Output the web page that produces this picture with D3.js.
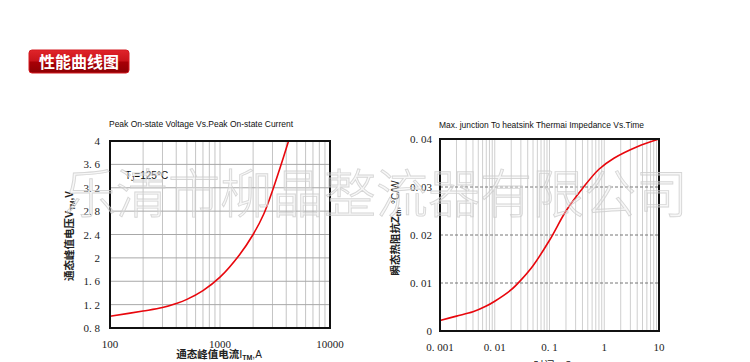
<!DOCTYPE html>
<html>
<head>
<meta charset="utf-8">
<script src="https://cdn.jsdelivr.net/npm/d3@7"></script>
<style>
  body { margin: 0; background: #fff; }
  svg { display: block; }
</style>
</head>
<body>
<svg id="chart" width="750" height="362"></svg>
<script>
// left panel: peak on-state voltage vs current
const currentA = [100, 200, 300, 400, 500, 700, 1000, 1500, 2000, 2500, 3000, 3500, 4200];
const voltageV = [1.0, 1.09, 1.15, 1.22, 1.29, 1.44, 1.67, 2.05, 2.4, 2.75, 3.15, 3.53, 4.0];
const voltTicks = [0.8, 1.2, 1.6, 2, 2.4, 2.8, 3.2, 3.6, 4];
const currentTicks = [100, 1000, 10000];

// right panel: thermal impedance vs time
const timeS = [0.001, 0.002, 0.004, 0.007, 0.01, 0.02, 0.03, 0.05, 0.1, 0.2, 0.4, 0.8, 1.5, 4, 10];
const zth = [0.0022, 0.0031, 0.0040, 0.0052, 0.0062, 0.0086, 0.0106, 0.0136, 0.0189, 0.0250, 0.0297, 0.0337, 0.0360, 0.0384, 0.0400];
const zthTicks = [0, 0.01, 0.02, 0.03, 0.04];
const timeTicks = [0.001, 0.01, 0.1, 1, 10];

const svg = d3.select('#chart');
const serif = '"Liberation Serif", "DejaVu Serif", serif';
const sans = '"Liberation Sans", Arial, sans-serif';
const cjk = '"Noto Sans CJK SC", sans-serif';

// header badge
const defs = svg.append('defs');
const grad = defs.append('linearGradient').attr('id', 'badge').attr('x1', 0).attr('y1', 0).attr('x2', 0).attr('y2', 1);
grad.append('stop').attr('offset', '0%').attr('stop-color', '#e0242a');
grad.append('stop').attr('offset', '48%').attr('stop-color', '#c8141a');
grad.append('stop').attr('offset', '52%').attr('stop-color', '#a80006');
grad.append('stop').attr('offset', '100%').attr('stop-color', '#8c0004');
svg.append('rect').attr('x', 29).attr('y', 50).attr('width', 100).attr('height', 23)
  .attr('rx', 3).attr('fill', 'url(#badge)').attr('stroke', '#d41a20').attr('stroke-width', 1);
svg.append('text').attr('x', 79).attr('y', 67.5).attr('text-anchor', 'middle')
  .attr('font-family', cjk).attr('font-weight', 700).attr('font-size', 16)
  .attr('fill', '#fff').text('性能曲线图');

function fmt(v, digits) {
  // tick labels drawn like "3. 6"
  const s = digits == null ? String(v) : v.toFixed(digits);
  return s.replace('.', '. ');
}

function panel(cfg) {
  const x = d3.scaleLog().domain(cfg.xDomain).range([cfg.left, cfg.right]);
  const y = d3.scaleLinear().domain(cfg.yDomain).range([cfg.bottom, cfg.top]);
  const g = svg.append('g');

  // minor vertical grid
  const minor = [];
  const d0 = Math.log10(cfg.xDomain[0]), d1 = Math.log10(cfg.xDomain[1]);
  for (let d = d0; d < d1; d++) {
    for (let k = 1; k <= 9; k++) minor.push(Math.pow(10, d) * k);
  }
  g.append('g').selectAll('line').data(minor.filter(v => v > cfg.xDomain[0]))
    .join('line')
    .attr('x1', d => x(d)).attr('x2', d => x(d))
    .attr('y1', cfg.top).attr('y2', cfg.bottom)
    .attr('stroke', cfg.vGrid).attr('stroke-width', 1);

  // horizontal grid
  g.append('g').selectAll('line').data(cfg.yTicks)
    .join('line')
    .attr('x1', cfg.left).attr('x2', cfg.right)
    .attr('y1', d => y(d)).attr('y2', d => y(d))
    .attr('stroke', cfg.hGrid).attr('stroke-width', 1)
    .attr('stroke-dasharray', cfg.hDash || null);

  // curve
  const line = d3.line().x(d => x(d[0])).y(d => y(d[1])).curve(d3.curveCatmullRom.alpha(0.5));
  g.append('path').datum(cfg.xs.map((v, i) => [v, cfg.ys[i]]))
    .attr('d', line).attr('fill', 'none').attr('stroke', '#e8070d').attr('stroke-width', 1.6);

  // frame
  g.append('rect').attr('x', cfg.left).attr('y', cfg.top)
    .attr('width', cfg.right - cfg.left).attr('height', cfg.bottom - cfg.top)
    .attr('fill', 'none').attr('stroke', '#111').attr('stroke-width', 2);

  // y tick labels
  g.append('g').selectAll('text').data(cfg.yTicks)
    .join('text')
    .attr('x', cfg.left - cfg.yLabelGap).attr('y', d => y(d) + 4)
    .attr('text-anchor', 'end').attr('font-family', serif).attr('font-size', 11)
    .attr('fill', '#222').text(d => cfg.yFmt(d));

  // x tick labels
  g.append('g').selectAll('text').data(cfg.xTicks)
    .join('text')
    .attr('x', d => x(d)).attr('y', cfg.bottom + 20)
    .attr('text-anchor', 'middle').attr('font-family', serif).attr('font-size', 11)
    .attr('fill', '#222').text(d => cfg.xFmt(d));

  // title
  g.append('text').attr('x', cfg.left - 1).attr('y', cfg.titleY)
    .attr('font-family', sans).attr('font-size', 9).attr('fill', '#111')
    .attr('textLength', cfg.titleLen).attr('lengthAdjust', 'spacingAndGlyphs')
    .text(cfg.title);

  // axis titles
  const yl = g.append('text')
    .attr('transform', `translate(${cfg.yTitleX},${cfg.yTitleY}) rotate(-90)`)
    .attr('text-anchor', 'middle').attr('font-family', cjk).attr('font-weight', 700)
    .attr('font-size', 10.5).attr('fill', '#222');
  cfg.yTitle(yl);

  const xl = g.append('text')
    .attr('x', (cfg.left + cfg.right) / 2 + cfg.xTitleDx).attr('y', cfg.xTitleY)
    .attr('text-anchor', 'middle').attr('font-family', cjk).attr('font-weight', 700)
    .attr('font-size', 10.5).attr('fill', '#222');
  cfg.xTitle(xl);

  return { x, y, g };
}

const left = panel({
  left: 110, right: 330, top: 141, bottom: 328,
  xDomain: [100, 10000], yDomain: [0.8, 4],
  xs: currentA, ys: voltageV,
  yTicks: voltTicks, xTicks: currentTicks,
  yFmt: d => fmt(d), xFmt: d => String(d),
  yLabelGap: 10,
  vGrid: '#c4c4c4', hGrid: '#a8a8a8',
  title: 'Peak On-state Voltage Vs.Peak On-state Current', titleY: 127, titleLen: 184,
  yTitleX: 73, yTitleY: 236,
  yTitle: t => {
    t.append('tspan').text('通态峰值电压');
    t.append('tspan').attr('font-family', sans).attr('font-size', 11).text('V');
    t.append('tspan').attr('font-family', sans).attr('font-size', 7).attr('dy', 2).text('TM');
    t.append('tspan').attr('font-family', sans).attr('font-size', 10).attr('dy', -2).text(',V');
  },
  xTitleDx: -1, xTitleY: 358,
  xTitle: t => {
    t.append('tspan').text('通态峰值电流');
    t.append('tspan').attr('font-family', sans).attr('font-size', 11).attr('font-weight', 400).text('I');
    t.append('tspan').attr('font-family', sans).attr('font-size', 7).attr('dy', 2).text('TM');
    t.append('tspan').attr('font-family', sans).attr('font-size', 10).attr('font-weight', 400).attr('dy', -2).text(',A');
  }
});

left.g.append('text').attr('x', 125).attr('y', 179)
  .attr('font-family', sans).attr('font-size', 10).attr('fill', '#111')
  .call(t => {
    t.append('tspan').text('T');
    t.append('tspan').attr('font-size', 6.5).attr('dy', 2).text('J');
    t.append('tspan').attr('dy', -2).text('=125°C');
  });

panel({
  left: 440, right: 659, top: 139, bottom: 331,
  xDomain: [0.001, 10], yDomain: [0, 0.04],
  xs: timeS, ys: zth,
  yTicks: zthTicks, xTicks: timeTicks,
  yFmt: d => d === 0 ? '0' : fmt(d, 2), xFmt: d => fmt(d),
  yLabelGap: 8,
  vGrid: '#cfcfcf', hGrid: '#777', hDash: '3,2',
  title: 'Max. junction To heatsink Thermai Impedance Vs.Time', titleY: 128, titleLen: 205,
  yTitleX: 399, yTitleY: 228,
  yTitle: t => {
    t.append('tspan').text('瞬态热阻抗');
    t.append('tspan').attr('font-family', sans).attr('font-size', 11).text('Z');
    t.append('tspan').attr('font-family', sans).attr('font-size', 7).attr('dy', 2).text('th');
    t.append('tspan').attr('font-family', sans).attr('font-size', 10).attr('font-weight', 400).attr('dy', -2).text(', °C/W');
  },
  xTitleDx: 3, xTitleY: 369,
  xTitle: t => { t.attr('font-weight', 400).text('时间：S'); }
});

// watermark
svg.append('text').attr('x', 376).attr('y', 190)
  .attr('text-anchor', 'middle').attr('dominant-baseline', 'central')
  .attr('font-family', cjk).attr('font-weight', 300).attr('font-size', 52)
  .attr('fill', 'rgba(235,235,235,0.45)').attr('stroke', '#cdcdcd').attr('stroke-width', 0.9)
  .attr('opacity', 0.8)
  .text('乐清市柳晶整流器有限公司');
</script>
</body>
</html>
